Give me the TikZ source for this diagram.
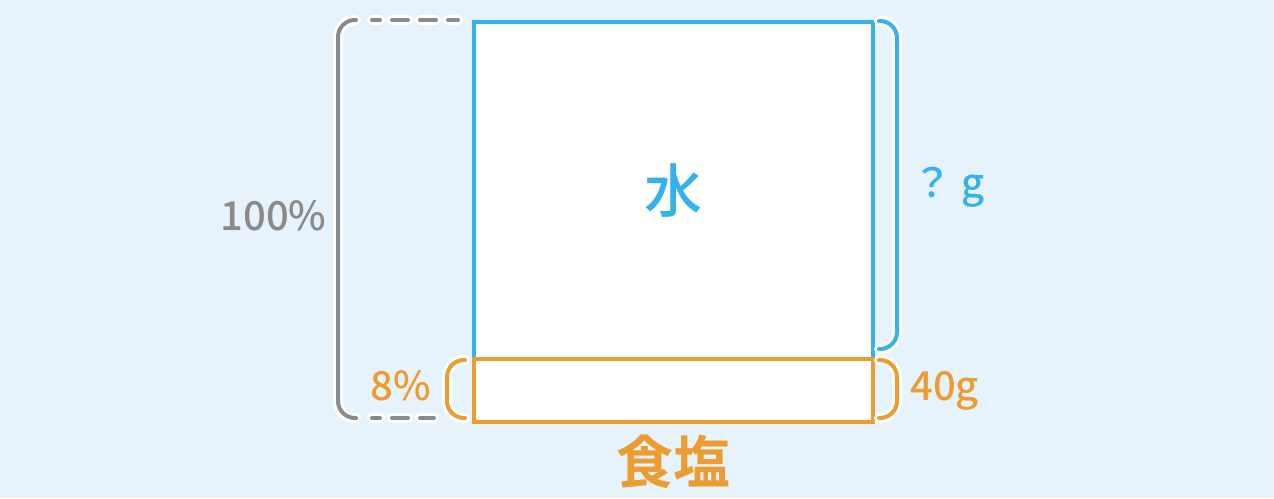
\documentclass[tikz,border=0pt]{standalone}
\usepackage{fontspec}
\setmainfont{Noto Sans CJK JP}[UprightFont=* Medium, BoldFont=* Bold]
\usetikzlibrary{calc}
\definecolor{bgc}{HTML}{E7F3FC}
\definecolor{cblue}{HTML}{35B2EB}
\definecolor{corange}{HTML}{EC9D31}
\definecolor{cgray}{HTML}{8A8A8A}
\tikzset{
  boxbase/.style={fill=white, line width=4pt, inner sep=0pt, anchor=north west},
  halo/.style={draw=white, line width=10pt, line cap=round, rounded corners=17pt},
  brk/.style={line width=4pt, line cap=round, rounded corners=17pt},
  dashpat/.style={dash pattern=on 16pt off 12pt, dash phase=8pt},
  lbl/.style={inner sep=0pt, anchor=base, font=\fontsize{40}{48}\selectfont},
}
\begin{document}
\begin{tikzpicture}[x=1pt,y=-1pt]
\fill[bgc] (0,0) rectangle (1274,498);
\useasboundingbox (0,0) rectangle (1274,498);
% boxes
\node[boxbase, draw=cblue, minimum width=399pt, minimum height=337pt,
      font=\fontsize{58}{64}\selectfont, text=cblue] (water) at (472,20) {水};
\node[boxbase, draw=corange, minimum width=399pt, minimum height=63pt] (salt) at (472,357) {};
% gray bracket
\draw[halo] (356,20) -- (338,20) -- (338,418) -- (356,418);
\draw[halo, dashpat, rounded corners=0pt] (372,20) -- (458,20);
\draw[halo, dashpat, rounded corners=0pt] (372,418) -- (434,418);
\draw[brk, cgray] (356,20) -- (338,20) -- (338,418) -- (356,418);
\draw[brk, cgray, dashpat, rounded corners=0pt] (372,20) -- (458,20);
\draw[brk, cgray, dashpat, rounded corners=0pt] (372,418) -- (434,418);
% blue right bracket
\draw[halo] (879,21) -- (897,21) -- (897,349) -- (879,349);
\draw[brk, cblue] (879,21) -- (897,21) -- (897,349) -- (879,349);
% orange right bracket
\draw[halo] (879,360) -- (897,360) -- (897,418) -- (879,418);
\draw[brk, corange] (879,360) -- (897,360) -- (897,418) -- (879,418);
% orange left bracket
\draw[halo] (465,360) -- (447,360) -- (447,418) -- (465,418);
\draw[brk, corange] (465,360) -- (447,360) -- (447,418) -- (465,418);
% labels
\node[lbl, text=cgray] (pct100) at (273.5,230) {100\%};
\node[lbl, text=corange] (pct8) at (401,400) {8\%};
\node[lbl, anchor=base west, text=cblue] (qg) at (912,197) {？ g};
\node[lbl, anchor=base west, text=corange] (g40) at (910,400) {40g};
\node[inner sep=0pt, font=\fontsize{57}{64}\selectfont\bfseries, text=corange] (shio)
  at ($(salt.south)+(0,38)$) {食塩};
\end{tikzpicture}
\end{document}
